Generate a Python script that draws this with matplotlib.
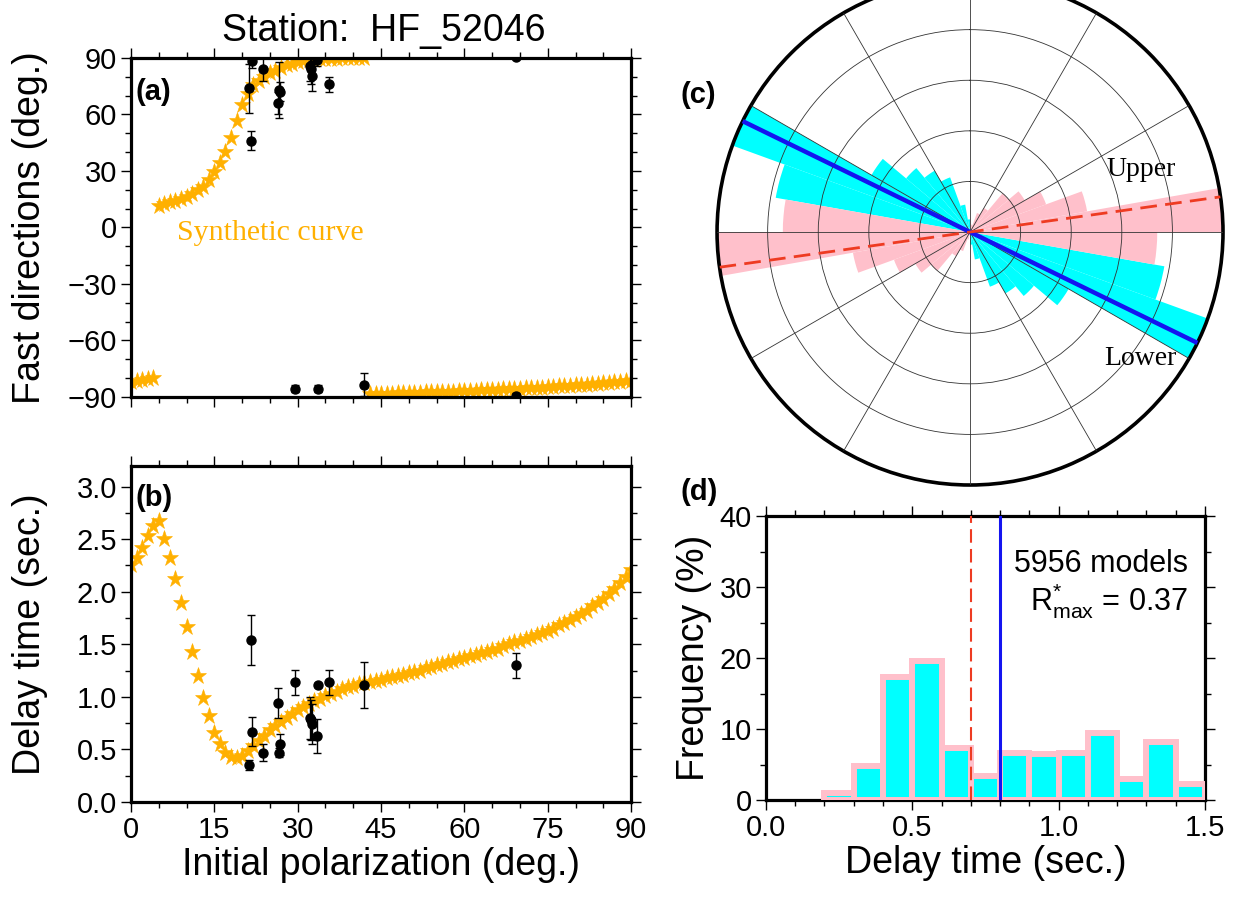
import numpy as np
import matplotlib
matplotlib.use("Agg")
import matplotlib.pyplot as plt
from matplotlib.ticker import MultipleLocator, FormatStrFormatter

plt.rcParams["font.family"] = ["Liberation Sans", "DejaVu Sans"]
plt.rcParams["mathtext.fontset"] = "custom"
plt.rcParams["mathtext.rm"] = "Liberation Sans"
plt.rcParams["mathtext.it"] = "Liberation Sans:italic"

# ---- data -------------------------------------------------------------
# synthetic curve, initial polarization 0..90 deg (1 deg step)
POL_SYN = list(range(0, 91))
PHI_SYN = [
    -82.0, -81.5, -81.0, -80.5, -80.0,
    11.2, 12.3, 13.3, 14.2, 15.0, 16.3, 17.8, 19.8, 21.6, 25.2,
    29.2, 34.3, 40.2, 47.5, 56.5, 65.0, 71.0, 75.6, 78.0, 80.1,
    81.8, 83.3, 84.7, 86.2, 87.0, 87.8, 88.3, 88.7, 89.0, 89.3,
    89.5, 89.6, 89.7, 89.8, 89.8, 89.9, 89.9, 90.0,
    -88.6, -88.5, -88.4, -88.3, -88.2, -88.1, -88.0, -87.9, -87.8, -87.7,
    -87.6, -87.5, -87.4, -87.3, -87.2, -87.1, -87.0, -86.9, -86.8, -86.6,
    -86.5, -86.4, -86.3, -86.1, -86.0, -85.9, -85.7, -85.6, -85.4, -85.3,
    -85.1, -85.0, -84.8, -84.6, -84.4, -84.2, -84.0, -83.8, -83.6, -83.4,
    -83.2, -83.0, -82.7, -82.5, -82.2, -82.0, -81.7, -81.4,
]
DT_SYN = [
    2.25, 2.32, 2.42, 2.53, 2.63, 2.67, 2.50, 2.32, 2.12, 1.89,
    1.66, 1.43, 1.20, 0.99, 0.82, 0.66, 0.55, 0.47, 0.43, 0.42,
    0.44, 0.48, 0.53, 0.58, 0.63, 0.68, 0.72, 0.76, 0.80, 0.84,
    0.87, 0.90, 0.93, 0.96, 0.98, 1.01, 1.03, 1.05, 1.07, 1.09,
    1.10, 1.12, 1.13, 1.14, 1.15, 1.16, 1.18, 1.19, 1.20, 1.21,
    1.23, 1.24, 1.25, 1.27, 1.28, 1.30, 1.31, 1.33, 1.34, 1.36,
    1.37, 1.39, 1.40, 1.42, 1.43, 1.45, 1.46, 1.48, 1.50, 1.52,
    1.53, 1.55, 1.57, 1.59, 1.61, 1.63, 1.65, 1.68, 1.70, 1.73,
    1.76, 1.79, 1.82, 1.86, 1.89, 1.93, 1.98, 2.03, 2.08, 2.14,
    2.21,
]

# measurements
OBS_POL = [21.2, 21.6, 21.7, 23.8, 26.4, 26.7, 26.9, 29.6,
           32.2, 32.4, 32.6, 33.4, 33.7, 35.7, 41.9, 69.2]
OBS_PHI = [74, 46, 88.5, 84, 66, 73, 72, -85.6,
           86, 84, 80.5, 89, -85.6, 76, -83.5, -89.5]
OBS_PHI_ERR = [13, 5, 4, 6, 6, 15, 5, 2, 8, 8, 8, 3, 2, 4, 6, 1.5]
OBS_DT = [0.35, 1.54, 0.67, 0.47, 0.94, 0.47, 0.55, 1.14,
          0.80, 0.78, 0.74, 0.63, 1.11, 1.14, 1.11, 1.30]
OBS_DT_ERR = [0.05, 0.24, 0.14, 0.08, 0.14, 0.04, 0.10, 0.12,
              0.20, 0.19, 0.19, 0.16, 0.02, 0.12, 0.22, 0.12]

# rose diagrams (10 deg azimuth bins, bidirectional), normalised length
ROSE_BINS = list(range(0, 180, 10))
ROSE_LOWER = [0, 0, 0, 0, 0, 0, 0, 0, 0, 0,
              0.78, 1.0, 0.45, 0.33, 0.28, 0.23, 0.11, 0.05]
ROSE_UPPER = [0, 0.03, 0.08, 0.11, 0.20, 0.25, 0.32, 0.47, 1.0, 0.74,
              0, 0, 0, 0, 0, 0, 0, 0]
PHI_LOWER = 116.0
PHI_UPPER = 82.0

# delay time histogram
DT_BINS = [0.0, 0.1, 0.2, 0.3, 0.4, 0.5, 0.6, 0.7, 0.8, 0.9,
           1.0, 1.1, 1.2, 1.3, 1.4]
DT_FREQ = [0, 0, 1.0, 4.8, 17.3, 19.6, 7.3, 3.4, 6.6, 6.5,
           6.6, 9.5, 2.9, 8.2, 2.3]
DT_UPPER = 0.7
DT_LOWER = 0.8
N_MODELS = 5956
R_MAX = 0.37

STAR = "#FFB000"
CYAN = "#00FFFF"
PINK = "#FFC0CB"
BLUE = "#1414F0"
RED = "#EE3B22"

TICK_FS = 21
LABEL_FS = 27


def style_frame(ax):
    for sp in ax.spines.values():
        sp.set_linewidth(2.3)
    ax.tick_params(which="both", direction="out", top=True, right=True,
                   labelsize=TICK_FS, width=1.0)
    ax.tick_params(which="major", length=7, pad=3)
    ax.tick_params(which="minor", length=4)


fig = plt.figure(figsize=(12.35, 8.99), dpi=100)

# ---- (a) fast directions ----------------------------------------------
axa = fig.add_axes([0.1061, 0.5584, 0.4049, 0.3771])
axa.plot(POL_SYN, PHI_SYN, ls="none", marker="*", ms=12.5, color=STAR,
         mec=STAR, mew=0.4, zorder=2)
axa.errorbar(OBS_POL, OBS_PHI, yerr=OBS_PHI_ERR, fmt="o", color="k",
             ms=6.5, capsize=3, elinewidth=1, capthick=1, zorder=4)
# directions within 1 deg of -90 also show at +90
wrap = [(p, f + 180) for p, f in zip(OBS_POL, OBS_PHI) if f < -89]
axa.plot([w[0] for w in wrap], [w[1] for w in wrap], "o", color="k",
         ms=6.5, zorder=4)
axa.set_xlim(0, 90)
axa.set_ylim(-90, 90)
axa.xaxis.set_major_locator(MultipleLocator(15))
axa.xaxis.set_minor_locator(MultipleLocator(5))
axa.yaxis.set_major_locator(MultipleLocator(30))
axa.yaxis.set_minor_locator(MultipleLocator(10))
style_frame(axa)
axa.tick_params(labelbottom=False)
axa.set_ylabel("Fast directions (deg.)", fontsize=LABEL_FS)
axa.yaxis.set_label_coords(-0.166, 0.5)
axa.text(8.2, -3, "Synthetic curve", color=STAR, fontsize=21.5,
         family=["Liberation Serif", "DejaVu Serif"], ha="left", va="center")
axa.text(0.008, 0.9, "(a)", transform=axa.transAxes, fontsize=21,
         fontweight="bold", ha="left", va="center")

# ---- (b) delay times --------------------------------------------------
axb = fig.add_axes([0.1061, 0.108, 0.4049, 0.374])
axb.plot(POL_SYN, DT_SYN, ls="none", marker="*", ms=12.5, color=STAR,
         mec=STAR, mew=0.4, zorder=2)
axb.errorbar(OBS_POL, OBS_DT, yerr=OBS_DT_ERR, fmt="o", color="k",
             ms=6.5, capsize=3, elinewidth=1, capthick=1, zorder=4)
axb.set_xlim(0, 90)
axb.set_ylim(0, 3.2)
axb.xaxis.set_major_locator(MultipleLocator(15))
axb.xaxis.set_minor_locator(MultipleLocator(5))
axb.yaxis.set_major_locator(MultipleLocator(0.5))
axb.yaxis.set_minor_locator(MultipleLocator(0.25))
axb.yaxis.set_major_formatter(FormatStrFormatter("%.1f"))
style_frame(axb)
axb.set_ylabel("Delay time (sec.)", fontsize=LABEL_FS)
axb.yaxis.set_label_coords(-0.166, 0.5)
axb.set_xlabel("Initial polarization (deg.)", fontsize=LABEL_FS)
axb.xaxis.set_label_coords(0.5, -0.134)
axb.text(0.008, 0.905, "(b)", transform=axb.transAxes, fontsize=21,
         fontweight="bold", ha="left", va="center")

# ---- (c) rose diagram -------------------------------------------------
axc = fig.add_axes([0.5806, 0.4605, 0.4097, 0.5628], projection="polar")
axc.set_theta_zero_location("N")
axc.set_theta_direction(-1)
bins_all = np.radians(ROSE_BINS + [b + 180 for b in ROSE_BINS])
lower_all = ROSE_LOWER + ROSE_LOWER
upper_all = ROSE_UPPER + ROSE_UPPER
axc.bar(bins_all, lower_all, width=np.radians(10), align="edge",
        color=CYAN, lw=0, zorder=1)
axc.bar(bins_all, upper_all, width=np.radians(10), align="edge",
        color=PINK, lw=0, zorder=1.1)
for phi, col, ls, lw in [(PHI_LOWER, BLUE, "-", 3.2),
                         (PHI_UPPER, RED, (0, (6, 3)), 2.0)]:
    t = np.radians(phi)
    axc.plot([t + np.pi, t + np.pi, t, t], [1, 0, 0, 1], color=col,
             ls=ls, lw=lw, zorder=4)
axc.set_ylim(0, 1)
axc.set_rticks([0.2, 0.4, 0.6, 0.8])
axc.set_thetagrids(range(0, 360, 30))
axc.set_xticklabels([])
axc.set_yticklabels([])
axc.set_axisbelow(False)
axc.grid(color="#333333", lw=0.6)
axc.spines["polar"].set_linewidth(2.6)
serif = ["Liberation Serif", "DejaVu Serif"]
axc.text(np.radians(70), 0.72, "Upper", family=serif, fontsize=20,
         ha="center", va="center", zorder=5)
axc.text(np.radians(126.5), 0.84, "Lower", family=serif, fontsize=20,
         ha="center", va="center", zorder=5)
fig.text(0.551, 0.894, "(c)", fontsize=21, fontweight="bold",
         ha="left", va="center")

# ---- (d) delay time histogram ------------------------------------------
axd = fig.add_axes([0.6202, 0.1101, 0.3555, 0.3159])
keep = [i for i, f in enumerate(DT_FREQ) if f > 0]
axd.bar([DT_BINS[i] for i in keep], [DT_FREQ[i] for i in keep], width=0.1,
        align="edge", color=CYAN, edgecolor=PINK, lw=4.3, zorder=3)
axd.axvline(DT_UPPER, color=RED, ls=(0, (6.5, 3)), lw=1.5, zorder=4)
axd.axvline(DT_LOWER, color=BLUE, lw=2.2, zorder=4)
axd.set_xlim(0, 1.5)
axd.set_ylim(0, 40)
axd.xaxis.set_major_locator(MultipleLocator(0.5))
axd.xaxis.set_minor_locator(MultipleLocator(0.1))
axd.xaxis.set_major_formatter(FormatStrFormatter("%.1f"))
axd.yaxis.set_major_locator(MultipleLocator(10))
axd.yaxis.set_minor_locator(MultipleLocator(5))
style_frame(axd)
axd.set_ylabel("Frequency (%)", fontsize=LABEL_FS)
axd.yaxis.set_label_coords(-0.123, 0.5)
axd.set_xlabel("Delay time (sec.)", fontsize=LABEL_FS)
axd.xaxis.set_label_coords(0.5, -0.158)
axd.text(0.962, 0.83, f"{N_MODELS} models", transform=axd.transAxes,
         fontsize=22, ha="right", va="center")
axd.text(0.962, 0.70, r"R$^{*}_{\mathrm{max}}$ = " + f"{R_MAX:.2f}",
         transform=axd.transAxes, fontsize=22, ha="right", va="center")
fig.text(0.551, 0.453, "(d)", fontsize=21, fontweight="bold",
         ha="left", va="center")

fig.text(0.311, 0.966, "Station:  HF_52046", fontsize=LABEL_FS,
         ha="center", va="center")

fig.savefig("out.png", dpi=100)
